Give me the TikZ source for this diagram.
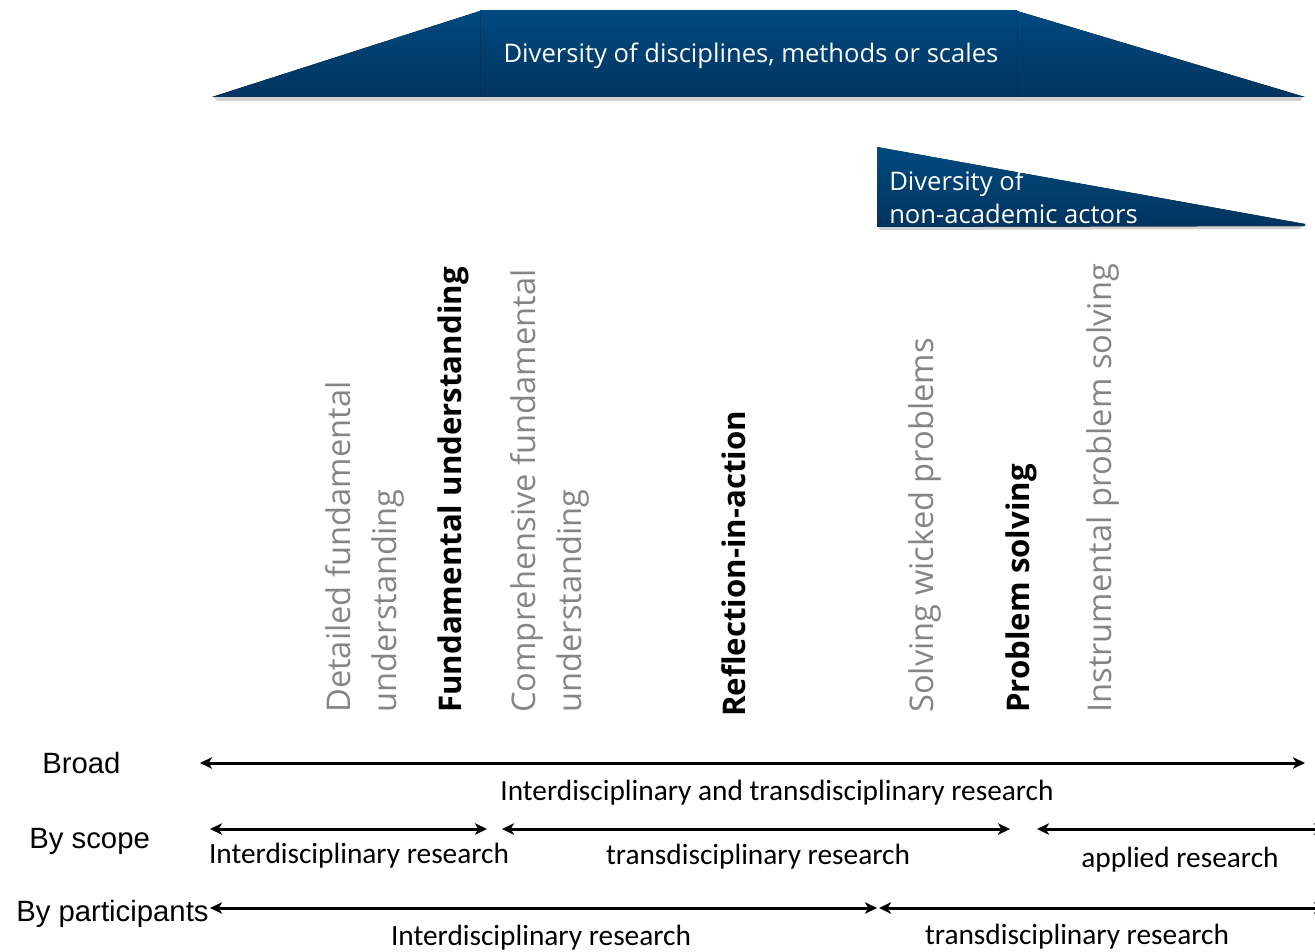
\documentclass[tikz,border=0pt]{standalone}
\usepackage{fontspec}
\setmainfont{Carlito}
\newfontfamily\osf{Open Sans}
\newfontfamily\arialf{Liberation Sans}
\usetikzlibrary{arrows.meta}
\definecolor{navytop}{RGB}{0,74,128}
\definecolor{navybot}{RGB}{0,52,95}
\definecolor{graytxt}{HTML}{858585}
\tikzset{
  band/.style={top color=navytop,bottom color=navybot,draw=none},
  shade/.style={fill=black,opacity=0.18,draw=none},
  vtext/.style={rotate=90,anchor=north west,inner sep=0pt,align=left,font=\osf\fontsize{24.5}{34.5}\selectfont},
  vgray/.style={vtext,text=graytxt},
  vbold/.style={vtext,text=black,font=\osf\bfseries\fontsize{23.4}{34}\selectfont},
  rowlabel/.style={anchor=base west,inner sep=0pt,font=\arialf\fontsize{22}{26}\selectfont},
  barlabel/.style={anchor=base,inner sep=0pt,font=\fontsize{22}{26}\selectfont},
  tipA/.tip={Stealth[length=9pt,width=8.5pt,inset=2.5pt]},
  span/.style={line width=2.25pt,tipA-tipA},
  spanshadow/.style={line width=2.25pt,tipA-tipA,draw=black,opacity=0.15,shift={(1.5,2.5)}},
}
\begin{document}
\begin{tikzpicture}[x=0.75pt,y=-0.75pt]
\useasboundingbox (0,0) rectangle (1315,952);

% top band
\fill[shade] (214,97) -- (1303,97) -- (1300,101) -- (217,101) -- cycle;
\fill[band] (212,97) -- (480,11) -- (480,97) -- cycle;
\fill[band] (1017,11) -- (1305,97) -- (1017,97) -- cycle;
\fill[band] (480,11) rectangle (1017,97);
\draw[navybot!70!black,opacity=0.35,line width=0.6pt] (480,11) -- (480,97) (1017,11) -- (1017,97);
\node[text=white,font=\osf\fontsize{19.2}{23}\selectfont] (disc) at (751,56) {Diversity of disciplines, methods or scales};

% actors triangle
\fill[shade] (878,227) -- (1303,225) -- (1300,229) -- (880,230) -- cycle;
\fill[band] (877,147) -- (1305,224) -- (1305,226) -- (877,227) -- cycle;
\node[anchor=north west,inner sep=0pt,align=left,text=white,font=\osf\fontsize{19.2}{24.5}\selectfont] (actors) at (889,171) {Diversity of\\non-academic actors};

% vertical labels
\node[vgray] (detailed) at (325,713) {Detailed fundamental\\understanding};
\node[vbold] (fund) at (438,713) {Fundamental understanding};
\node[vgray] (compr) at (510,713) {Comprehensive fundamental\\understanding};
\node[vbold] (refl) at (721,717) {Reflection-in-action};
\node[vgray] (wicked) at (908,713) {Solving wicked problems};
\node[vbold] (probl) at (1006,713) {Problem solving};
\node[vgray] (instr) at (1086,713) {Instrumental problem solving};

% row labels
\node[rowlabel] (broad) at (42,773) {Broad};
\node[rowlabel] (scope) at (29,848) {By scope};
\node[rowlabel] (part) at (16,921) {By participants};

% arrow end points
\coordinate (b1) at (200,763);
\coordinate (b2) at (1305,763);
\coordinate (s1) at (210,829);
\coordinate (s2) at (487,829);
\coordinate (s3) at (502,829);
\coordinate (s4) at (1010,829);
\coordinate (s5) at (1037,829);
\coordinate (s6) at (1326,829);
\coordinate (p1) at (210,908);
\coordinate (p2) at (877,908);
\coordinate (p3) at (879,908);
\coordinate (p4) at (1326,908);

\foreach \a/\b in {b1/b2,s1/s2,s3/s4,s5/s6,p1/p2,p3/p4}{
  \draw[spanshadow] (\a) -- (\b);
  \draw[span] (\a) -- (\b);
}

% bar labels
\node[barlabel] (lbroad) at (777,800) {Interdisciplinary and transdisciplinary research};
\node[barlabel] (ls1) at (359,863) {Interdisciplinary research};
\node[barlabel] (ls2) at (758,864) {transdisciplinary research};
\node[barlabel] (ls3) at (1180,867) {applied research};
\node[barlabel] (lp1) at (541,945) {Interdisciplinary research};
\node[barlabel] (lp2) at (1077,944) {transdisciplinary research};
\end{tikzpicture}
\end{document}
